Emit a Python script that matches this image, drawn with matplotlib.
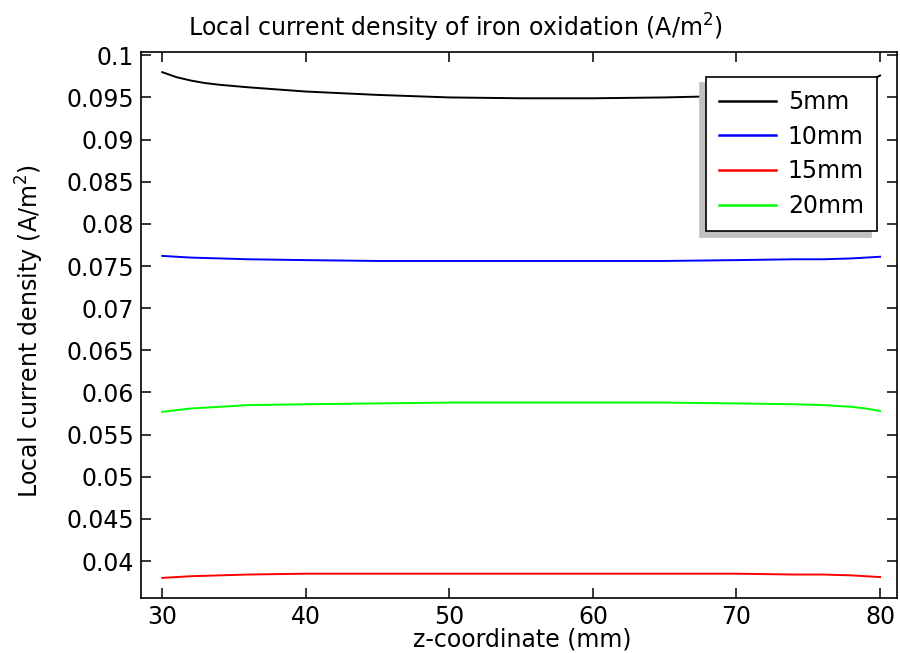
import numpy as np
import matplotlib
matplotlib.use("Agg")
import matplotlib.pyplot as plt
from matplotlib.ticker import FuncFormatter

z = [30, 30.5, 31, 32, 33, 34, 36, 40, 45, 50, 55, 60, 65, 70, 74, 76, 78, 79, 80]
j_5mm = [0.0980, 0.0977, 0.0974, 0.0970, 0.0967, 0.0965, 0.0962, 0.0957, 0.0953, 0.0950,
         0.0949, 0.0949, 0.0950, 0.0952, 0.0955, 0.0958, 0.0962, 0.0967, 0.0976]
j_10mm = [0.0762, 0.07615, 0.0761, 0.0760, 0.07595, 0.0759, 0.0758, 0.0757, 0.0756, 0.0756,
          0.0756, 0.0756, 0.0756, 0.0757, 0.0758, 0.0758, 0.0759, 0.0760, 0.0761]
j_15mm = [0.0380, 0.03805, 0.0381, 0.0382, 0.03825, 0.0383, 0.0384, 0.0385, 0.0385, 0.0385,
          0.0385, 0.0385, 0.0385, 0.0385, 0.0384, 0.0384, 0.0383, 0.0382, 0.0381]
j_20mm = [0.0577, 0.0578, 0.0579, 0.0581, 0.0582, 0.0583, 0.0585, 0.0586, 0.0587, 0.0588,
          0.0588, 0.0588, 0.0588, 0.0587, 0.0586, 0.0585, 0.0583, 0.0581, 0.0578]

labels = ["5mm", "10mm", "15mm", "20mm"]
colors = ["black", "#0000ff", "#ff0000", "#00ff00"]
x_ticks = [30, 40, 50, 60, 70, 80]
y_ticks = [0.04, 0.045, 0.05, 0.055, 0.06, 0.065, 0.07, 0.075, 0.08, 0.085, 0.09, 0.095, 0.1]

fs = 17

fig = plt.figure(figsize=(9, 6.53), dpi=100)
ax = fig.add_axes([141 / 900, (653 - 598.3) / 653, 756 / 900, 546.3 / 653])

for vals, lab, c in zip([j_5mm, j_10mm, j_15mm, j_20mm], labels, colors):
    ax.plot(z, vals, color=c, lw=1.4, label=lab)

ax.set_xlim(28.52, 81.18)
ax.set_ylim(0.03558, 0.10039)
ax.set_xticks(x_ticks)
ax.set_yticks(y_ticks)
ax.yaxis.set_major_formatter(FuncFormatter(lambda v, p: "%g" % round(v, 4)))
ax.tick_params(direction="in", length=7, width=1.1, top=True, right=True,
               labelsize=fs, pad=5)
for s in ax.spines.values():
    s.set_linewidth(1.2)

leg = ax.legend(loc="upper right", bbox_to_anchor=(0.9735, 0.9542), borderaxespad=0,
                fontsize=fs, fancybox=False, framealpha=1, edgecolor="black",
                handlelength=2.4, handletextpad=0.5, labelspacing=0.45, borderpad=0.55,
                shadow={"ox": -4.3, "oy": -4.3, "color": "#c0c0c0", "alpha": 1})
leg.get_frame().set_linewidth(1.2)
for line in leg.get_lines():
    line.set_linewidth(1.8)

fig.text(455 / 900, 1 - 28 / 653, "Local current density of iron oxidation (A/m$^2$)",
         ha="center", va="center", fontsize=fs)
fig.text(522 / 900, 1 - 640 / 653, "z-coordinate (mm)", ha="center", va="center",
         fontsize=fs)
fig.text(30 / 900, 1 - 331 / 653, "Local current density (A/m$^2$)", ha="center",
         va="center", rotation=90, fontsize=fs)

fig.savefig("out.png", dpi=100)
